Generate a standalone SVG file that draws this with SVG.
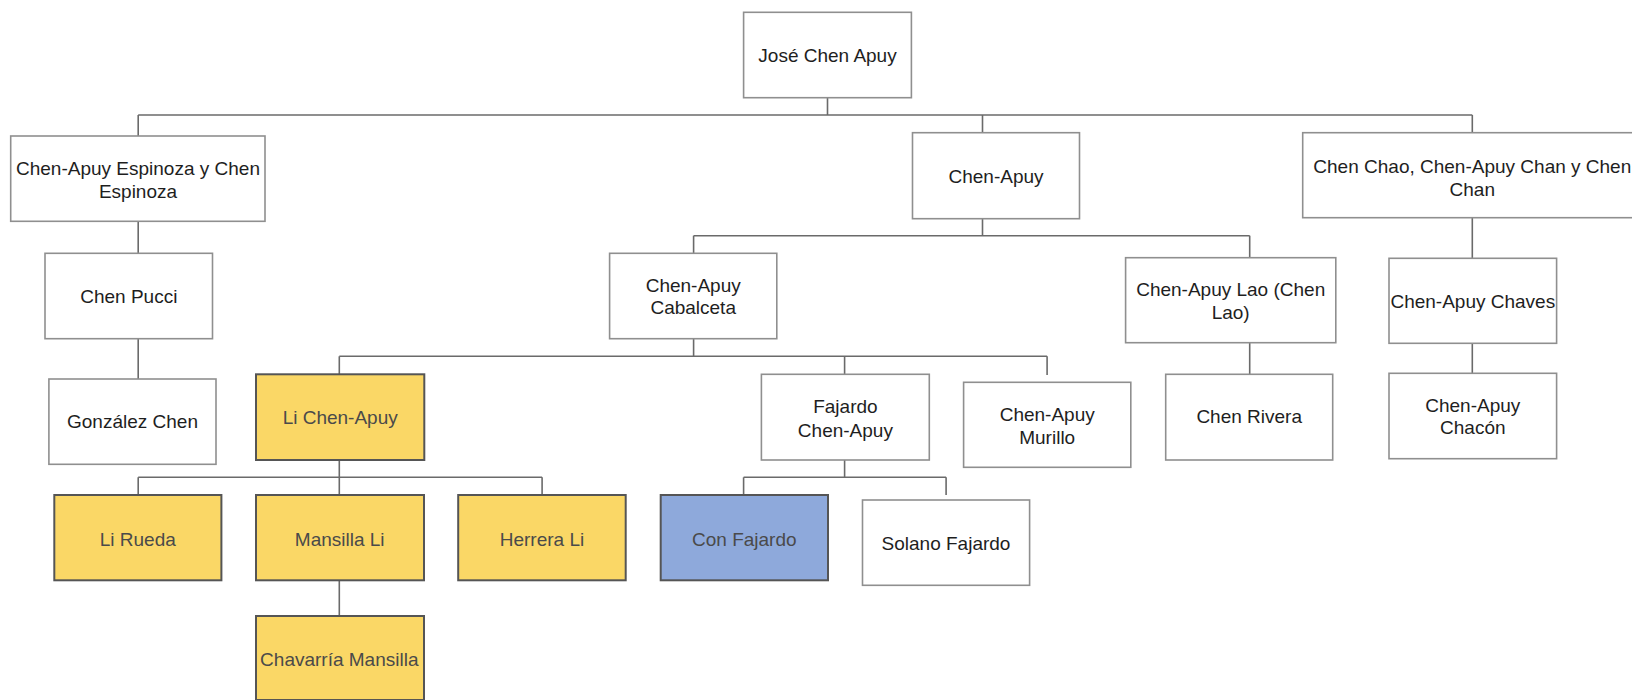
<svg xmlns="http://www.w3.org/2000/svg" width="1632" height="700" viewBox="0 0 1632 700">
<style>
  .box { fill: #ffffff; stroke: #8f8f8f; stroke-width: 1.6; }
  .yel { fill: #fad766; stroke: #555555; stroke-width: 2; }
  .blu { fill: #8ea9db; stroke: #555555; stroke-width: 2; }
  text { font-family: "Liberation Sans", Arial, sans-serif; font-size: 19px; text-anchor: middle; fill: #1e1e1e; }
  .dim { fill: #4a4a4a; }
  .conn path { fill: none; stroke: #6a6a6a; stroke-width: 1.6; }
</style>
<rect x="0" y="0" width="1632" height="700" fill="#ffffff"/>
<g class="conn" id="connectors">
  <path d="M827.5 97.7 V115"/>
  <path d="M138.2 115 H1472.3"/>
  <path d="M138.2 115 V136"/>
  <path d="M982.5 115 V132.7"/>
  <path d="M1472.3 115 V132.7"/>
  <path d="M138.2 221.3 V253.3"/>
  <path d="M138.2 338.7 V379"/>
  <path d="M982.5 218.7 V235.7"/>
  <path d="M693.6 235.7 H1249.7"/>
  <path d="M693.6 235.7 V253.3"/>
  <path d="M1249.7 235.7 V257.7"/>
  <path d="M1472.3 217.7 V258.3"/>
  <path d="M693.6 338.7 V356.3"/>
  <path d="M339.3 356.3 H1047.1"/>
  <path d="M339.3 356.3 V374.3"/>
  <path d="M844.6 356.3 V374.3"/>
  <path d="M1047.1 356.3 V375"/>
  <path d="M1249.7 342.7 V374.3"/>
  <path d="M1472.3 339.3 V373.3"/>
  <path d="M339.3 460 V477.3"/>
  <path d="M138.2 477.3 H542.1"/>
  <path d="M138.2 477.3 V495"/>
  <path d="M339.3 477.3 V495"/>
  <path d="M542.1 477.3 V495"/>
  <path d="M339.3 580.3 V616"/>
  <path d="M844.6 460 V477.3"/>
  <path d="M743.6 477.3 H946.1"/>
  <path d="M743.6 477.3 V495"/>
  <path d="M946.1 477.3 V495"/>
</g>
<g id="jose"><rect class="box" x="743.6" y="12.3" width="167.8" height="85.4"/><text x="827.5" y="61.7">José Chen Apuy</text></g>
<g id="espinoza"><rect class="box" x="10.7" y="136" width="254.3" height="85.3"/><text x="138" y="174.7">Chen-Apuy Espinoza y Chen</text><text x="138" y="197.7">Espinoza</text></g>
<g id="chenapuy"><rect class="box" x="912.5" y="132.7" width="167" height="86"/><text x="996" y="182.5">Chen-Apuy</text></g>
<g id="chao"><rect class="box" x="1302.7" y="132.7" width="340" height="85"/><text x="1472.3" y="172.5">Chen Chao, Chen-Apuy Chan y Chen</text><text x="1472.3" y="195.5">Chan</text></g>
<g id="pucci"><rect class="box" x="45" y="253.3" width="167.5" height="85.4"/><text x="128.8" y="303.2">Chen Pucci</text></g>
<g id="gonzalez"><rect class="box" x="48.9" y="379" width="167.1" height="85.3"/><text x="132.5" y="428.2">González Chen</text></g>
<g id="cabalceta"><rect class="box" x="609.6" y="253.3" width="167.2" height="85.4"/><text x="693.2" y="291.5">Chen-Apuy</text><text x="693.2" y="314">Cabalceta</text></g>
<g id="lao"><rect class="box" x="1125.6" y="257.7" width="210.2" height="85"/><text x="1230.7" y="295.8">Chen-Apuy Lao (Chen</text><text x="1230.7" y="318.8">Lao)</text></g>
<g id="chaves"><rect class="box" x="1389" y="258.3" width="167.6" height="85"/><text x="1472.8" y="308.2">Chen-Apuy Chaves</text></g>
<g id="li"><rect class="yel" x="256" y="374.3" width="168.3" height="85.7"/><text class="dim" x="340.2" y="424.2">Li Chen-Apuy</text></g>
<g id="fajardo"><rect class="box" x="761.4" y="374.3" width="167.9" height="85.7"/><text x="845.4" y="413.2">Fajardo</text><text x="845.4" y="436.5">Chen-Apuy</text></g>
<g id="murillo"><rect class="box" x="963.6" y="382.3" width="167.2" height="85"/><text x="1047.2" y="420.8">Chen-Apuy</text><text x="1047.2" y="443.8">Murillo</text></g>
<g id="rivera"><rect class="box" x="1165.7" y="374.3" width="167" height="85.7"/><text x="1249.2" y="423.2">Chen Rivera</text></g>
<g id="chacon"><rect class="box" x="1389" y="373.3" width="167.6" height="85.4"/><text x="1472.8" y="411.5">Chen-Apuy</text><text x="1472.8" y="433.8">Chacón</text></g>
<g id="rueda"><rect class="yel" x="54.3" y="495" width="167.1" height="85.3"/><text class="dim" x="137.8" y="545.5">Li Rueda</text></g>
<g id="mansilla"><rect class="yel" x="256" y="495" width="168" height="85.3"/><text class="dim" x="339.7" y="545.5">Mansilla Li</text></g>
<g id="herrera"><rect class="yel" x="458.2" y="495" width="167.5" height="85.3"/><text class="dim" x="542" y="545.5">Herrera Li</text></g>
<g id="con"><rect class="blu" x="660.7" y="495" width="167.3" height="85.3"/><text class="dim" x="744.3" y="545.5">Con Fajardo</text></g>
<g id="solano"><rect class="box" x="862.5" y="500" width="167.1" height="85.3"/><text x="946" y="549.8">Solano Fajardo</text></g>
<g id="chavarria"><rect class="yel" x="256" y="616" width="168" height="84"/><text class="dim" x="339.3" y="665.8">Chavarría Mansilla</text></g>
</svg>
